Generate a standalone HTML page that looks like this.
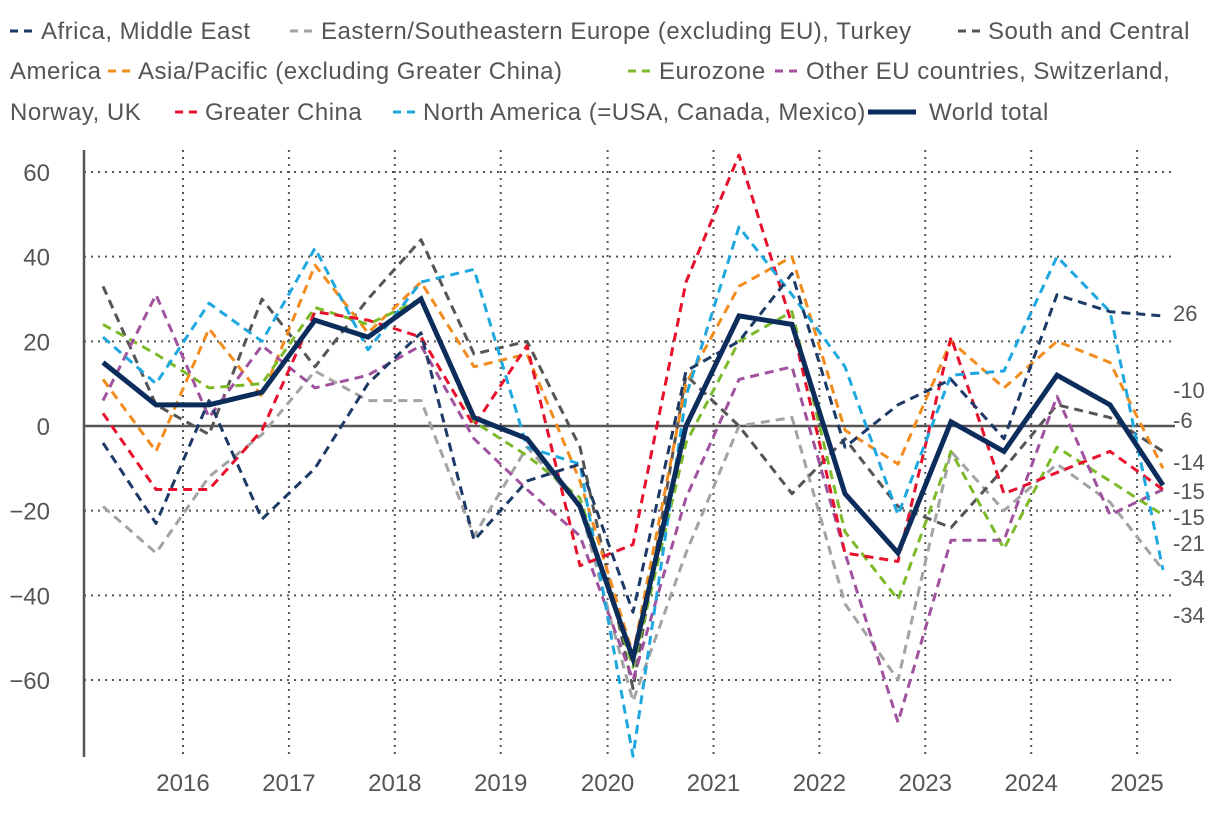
<!DOCTYPE html>
<html><head><meta charset="utf-8">
<style>
body{margin:0;background:#fff;width:1220px;height:814px;overflow:hidden;font-family:"Liberation Sans",sans-serif;}
#wrap{position:relative;width:1220px;height:814px;}
.lg{position:absolute;font-size:24px;letter-spacing:0.5px;color:#555;white-space:nowrap;line-height:1;}
svg text{font-family:"Liberation Sans",sans-serif;}
</style></head>
<body><div id="wrap">
<svg id="leg" width="1220" height="140" style="position:absolute;left:0;top:0"></svg>
<div class="lg" style="left:41px;top:20px">Africa, Middle East</div>
<div class="lg" style="left:321px;top:20px">Eastern/Southeastern Europe (excluding EU), Turkey</div>
<div class="lg" style="left:988px;top:20px">South and Central</div>
<div class="lg" style="left:10px;top:60px">America</div>
<div class="lg" style="left:138px;top:60px">Asia/Pacific (excluding Greater China)</div>
<div class="lg" style="left:659px;top:60px">Eurozone</div>
<div class="lg" style="left:806px;top:60px">Other EU countries, Switzerland,</div>
<div class="lg" style="left:10px;top:101px">Norway, UK</div>
<div class="lg" style="left:205px;top:101px">Greater China</div>
<div class="lg" style="left:423px;top:101px">North America (=USA, Canada, Mexico)</div>
<div class="lg" style="left:929px;top:101px">World total</div>
<svg id="plot" width="1220" height="814" style="position:absolute;left:0;top:0"></svg>
</div>
<script>
const years=["2016","2017","2018","2019","2020","2021","2022","2023","2024","2025"];
const yTicks=[60,40,20,0,-20,-40,-60];
const africa=[-4,-23,6,-22,-10,10,22,-27,-13,-9,-44,13,20,36,-5,5,11,-3,31,27,26];
const eastern=[-19,-30,-12,-2,13,6,6,-26,-5,-19,-65,-30,0,2,-42,-60,-6,-20,-9,-18,-34];
const south=[33,5,-2,30,14,30,44,17,20,-5,-62,12,0,-16,-3,-19,-24,-10,5,2,-6];
const asia=[11,-6,23,7,38,22,34,14,17,-13,-54,10,33,40,-1,-9,20,9,20,15,-10];
const eurozone=[24,17,9,10,28,24,30,1,-7,-17,-57,-4,20,27,-25,-41,-6,-29,-5,-13,-21];
const otherEu=[6,31,2,19,9,12,19,-3,-15,-26,-60,-17,11,14,-30,-70,-27,-27,7,-21,-15];
const china=[3,-15,-15,-1,27,25,21,0,19,-33,-28,34,64,24,-30,-32,21,-16,-11,-6,-15];
const northAm=[21,10,29,20,42,18,34,37,-5,-9,-78,7,47,31,14,-21,12,13,40,27,-34];
const world=[15,5,5,8,25,21,30,2,-3,-19,-55,0,26,24,-16,-30,1,-6,12,5,-14];
const endLabels=["26","-10","-6","-14","-15","-15","-21","-34","-34"];
const endLabelY=[313,390,420,462,491,517,543,578,615];

const NS="http://www.w3.org/2000/svg";
const y=v=>426-v*4.2333;
const x=i=>103+i*53;
const yearX=i=>183+i*105.9;
const plot=document.getElementById('plot');
function mk(tag,attrs,parent){const e=document.createElementNS(NS,tag);for(const k in attrs)e.setAttribute(k,attrs[k]);parent.appendChild(e);return e;}
yTicks.forEach(v=>{
  if(v!==0){const g=mk('line',{x1:84,x2:1175,y1:y(v),y2:y(v),stroke:'#555','stroke-width':2,'stroke-dasharray':'2 5'},plot);
  
  }
  const t=mk('text',{x:50,y:y(v)+9,'font-size':24,fill:'#555','text-anchor':'end'},plot);
  t.textContent=v<0?'\u2212'+Math.abs(v):String(v);
  
  
});
years.forEach((yr,i)=>{
  const gx=yearX(i)+(i>=4?1:0);
  const g=mk('line',{x1:gx,x2:gx,y1:150,y2:757,stroke:'#555','stroke-width':2,'stroke-dasharray':'2 5'},plot);
  
  
  const t=mk('text',{x:gx,y:791,'font-size':24,fill:'#555','text-anchor':'middle'},plot);
  t.textContent=yr;
  
  
});
const ax=mk('line',{x1:84,x2:84,y1:150,y2:757,stroke:'#555','stroke-width':2.5},plot);


const zl=mk('line',{x1:84,x2:1175,y1:y(0),y2:y(0),stroke:'#555','stroke-width':2.5},plot);


const series=[
 ['series-eastern-europe',eastern,'#a3a3a3'],
 ['series-south-america',south,'#555555'],
 ['series-asia-pacific',asia,'#f28c1e'],
 ['series-eurozone',eurozone,'#7cba2a'],
 ['series-other-eu',otherEu,'#a0529f'],
 ['series-greater-china',china,'#e8112d'],
 ['series-north-america',northAm,'#1fa8e0'],
 ['series-africa',africa,'#1d3a66']];
series.forEach(([n,d,c])=>{
  const p=mk('polyline',{points:d.map((v,i)=>x(i)+','+y(v)).join(' '),fill:'none',stroke:c,'stroke-width':3,'stroke-dasharray':'9 6','stroke-linejoin':'round'},plot);
  
  
});
const w=mk('polyline',{points:world.map((v,i)=>x(i)+','+y(v)).join(' '),fill:'none',stroke:'#0c2d5b','stroke-width':5,'stroke-linejoin':'miter'},plot);


endLabels.forEach((l,i)=>{
  const t=mk('text',{x:1173,y:endLabelY[i]+8,'font-size':22,fill:'#555'},plot);
  t.textContent=l;
  
  
});
const leg=document.getElementById('leg');
const markers=[[10,31,'#1d3a66'],[290,31,'#a3a3a3'],[958,31,'#555555'],[108,71,'#f28c1e'],[628,71,'#7cba2a'],[775,71,'#a0529f'],[175,112,'#e8112d'],[393,112,'#1fa8e0']];
markers.forEach(([mx,my,c])=>{
  const l=mk('line',{x1:mx,x2:mx+22,y1:my,y2:my,stroke:c,'stroke-width':3,'stroke-dasharray':'8 6'},leg);
  
  
});
const wl=mk('line',{x1:868,x2:916,y1:112,y2:112,stroke:'#0c2d5b','stroke-width':5},leg);


</script>
</body></html>
